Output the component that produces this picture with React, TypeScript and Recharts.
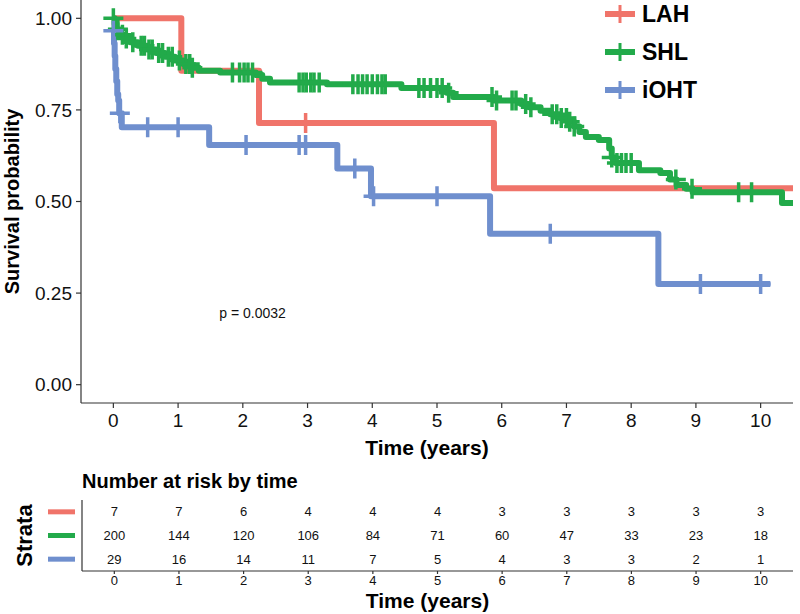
import React from 'react';
import { ComposedChart, Line, Scatter, XAxis, YAxis, Legend, ReferenceDot } from 'recharts';

const FONT = '"Liberation Sans", Arial, Helvetica, sans-serif';

// strata and their colours
const strata = ['LAH', 'SHL', 'iOHT'];
const colors = ['#F0746A', '#22AA4A', '#6F8FCE'];

// Kaplan-Meier steps (time in years, survival)
const lahTimes = [0, 1.05, 2.25, 5.88, 10.5];
const lahSurv = [1, 0.857, 0.714, 0.536, 0.536];
const lahCensor = [2.97];

const shlTimes = [0, 0.02, 0.05, 0.09, 0.16, 0.26, 0.38, 0.52, 0.66, 0.8, 0.95, 1.08, 1.2, 1.32, 1.65, 2.2, 2.3, 2.42, 3.3, 4.45, 5.15, 5.25, 5.88, 6.3, 6.42, 6.6, 6.75, 6.9, 7.02, 7.12, 7.2, 7.3, 7.5, 7.66, 7.7, 7.76, 8.12, 8.45, 8.6, 8.7, 8.85, 8.95, 10.33, 10.5];
const shlSurv = [1, 0.985, 0.97, 0.955, 0.945, 0.935, 0.925, 0.915, 0.905, 0.895, 0.885, 0.875, 0.865, 0.857, 0.852, 0.845, 0.835, 0.825, 0.82, 0.81, 0.797, 0.785, 0.776, 0.766, 0.757, 0.748, 0.738, 0.728, 0.718, 0.705, 0.69, 0.676, 0.668, 0.645, 0.62, 0.605, 0.585, 0.578, 0.56, 0.545, 0.535, 0.525, 0.496, 0.496];
const shlCensor = [0, 0.07, 0.14, 0.2, 0.3, 0.43, 0.48, 0.55, 0.6, 0.7, 0.76, 0.85, 0.91, 1.02, 1.12, 1.18, 1.22, 1.84, 1.95, 2.02, 2.08, 2.15, 2.87, 2.93, 2.98, 3.05, 3.1, 3.18, 3.7, 3.78, 3.85, 3.92, 4.0, 4.08, 4.15, 4.2, 4.72, 4.8, 4.9, 5.0, 5.08, 5.18, 5.85, 5.92, 6.16, 6.22, 6.37, 6.45, 6.78, 6.85, 6.92, 7.0, 7.05, 7.12, 7.7, 7.78, 7.85, 7.92, 8.0, 8.69, 8.94, 9.66, 9.86];

const iohtTimes = [0, 0.01, 0.02, 0.03, 0.045, 0.06, 0.075, 0.09, 0.13, 1.48, 3.46, 3.98, 5.82, 8.42, 10.15];
const iohtSurv = [0.966, 0.931, 0.897, 0.862, 0.828, 0.793, 0.776, 0.741, 0.703, 0.654, 0.59, 0.514, 0.412, 0.275, 0.275];
const iohtCensor = [0, 0.1, 0.53, 1.0, 2.05, 2.87, 2.97, 3.73, 4.02, 5.0, 6.75, 9.07, 10.0];

// number at risk table
const riskTimes = [0, 1, 2, 3, 4, 5, 6, 7, 8, 9, 10];
const lahRisk = [7, 7, 6, 4, 4, 4, 3, 3, 3, 3, 3];
const shlRisk = [200, 144, 120, 106, 84, 71, 60, 47, 33, 23, 18];
const iohtRisk = [29, 16, 14, 11, 7, 5, 4, 3, 3, 2, 1];

const yTicks = [0, 0.25, 0.5, 0.75, 1];
const pValue = 'p = 0.0032';

// value of the step curve at time t
const stepValue = (times: number[], surv: number[], t: number) => {
  let v = surv[0];
  for (let i = 0; i < times.length; i++) if (times[i] <= t) v = surv[i];
  return v;
};

const curves = [
  { times: lahTimes, surv: lahSurv, censor: lahCensor },
  { times: shlTimes, surv: shlSurv, censor: shlCensor },
  { times: iohtTimes, surv: iohtSurv, censor: iohtCensor },
].map(c => ({
  line: c.times.map((t, i) => ({ t, s: c.surv[i] })),
  marks: c.censor.map(t => ({ t, s: stepValue(c.times, c.surv, t) })),
}));

const riskRows = [lahRisk, shlRisk, iohtRisk].map((row, r) =>
  row.map((n, i) => ({ t: riskTimes[i], row: r, n }))
);

const censorShape = (color: string) => (props: any) => {
  const { cx, cy } = props;
  if (cx == null || cy == null) return <g />;
  return (
    <path d={`M${cx - 10},${cy}H${cx + 10}M${cx},${cy - 10}V${cy + 10}`} stroke={color} strokeWidth={3.5} fill="none" />
  );
};

const riskText = (props: any) => {
  const { cx, cy, payload } = props;
  if (cx == null || cy == null) return <g />;
  return (
    <text x={cx} y={cy} dy="0.35em" textAnchor="middle" fontSize={13} fill="#111" fontFamily={FONT}>
      {payload.n}
    </text>
  );
};

const StrataTick = (props: any) => {
  const { y, payload } = props;
  return <line x1={48} x2={75} y1={y} y2={y} stroke={colors[payload.value]} strokeWidth={5} />;
};

const renderLegend = () => (
  <div style={{ fontFamily: FONT }}>
    {strata.map((name, i) => (
      <div key={name} style={{ display: 'flex', alignItems: 'center', height: 38 }}>
        <svg width={34} height={20}>
          <line x1={2} y1={10} x2={32} y2={10} stroke={colors[i]} strokeWidth={6} />
          <line x1={17} y1={1} x2={17} y2={19} stroke={colors[i]} strokeWidth={3} />
        </svg>
        <span style={{ marginLeft: 5, fontWeight: 'bold', fontSize: 23, color: '#000' }}>{name}</span>
      </div>
    ))}
  </div>
);

const xTitle = (base: number) => (props: any) => {
  const vb = props.viewBox;
  return (
    <text x={vb.x + vb.width / 2 - 10} y={vb.y + base} textAnchor="middle" fontSize={21} fontWeight="bold" fill="#000" fontFamily={FONT}>
      Time (years)
    </text>
  );
};

const yTitle = (text: string, x: number, size: number) => (props: any) => {
  const vb = props.viewBox;
  const cy = vb.y + vb.height / 2;
  return (
    <text x={x} y={cy} transform={`rotate(-90, ${x}, ${cy})`} textAnchor="middle" fontSize={size} fontWeight="bold" fill="#000" fontFamily={FONT}>
      {text}
    </text>
  );
};

const axisStyle = { stroke: '#333', strokeWidth: 1.2 };

export default function App() {
  return (
    <div style={{ position: 'absolute', left: 0, top: 0, width: 800, height: 614, background: '#fff', fontFamily: FONT }}>
      <ComposedChart width={800} height={460} margin={{ top: 0, right: 7, bottom: 0, left: 0 }}>
        <XAxis
          type="number"
          dataKey="t"
          domain={[-0.5, 10.5]}
          ticks={riskTimes}
          allowDataOverflow
          height={57}
          tickSize={5}
          tickMargin={6}
          axisLine={axisStyle}
          tickLine={axisStyle}
          tick={{ fontSize: 19, fill: '#111', fontFamily: FONT }}
          label={xTitle(52)}
        />
        <YAxis
          type="number"
          domain={[-0.05, 1.05]}
          ticks={yTicks}
          allowDataOverflow
          width={81}
          tickSize={5}
          tickMargin={4}
          tickFormatter={(v: number) => v.toFixed(2)}
          axisLine={axisStyle}
          tickLine={axisStyle}
          tick={{ fontSize: 19, fill: '#111', fontFamily: FONT }}
          label={yTitle('Survival probability', 19, 20)}
        />
        {curves.map((c, i) => (
          <Line
            key={'l' + i}
            data={c.line}
            dataKey="s"
            type="stepAfter"
            stroke={colors[i]}
            strokeWidth={6}
            strokeLinejoin="round"
            dot={false}
            activeDot={false}
            isAnimationActive={false}
            name={strata[i]}
          />
        ))}
        {curves.map((c, i) => (
          <Scatter
            key={'c' + i}
            data={c.marks}
            dataKey="s"
            shape={censorShape(colors[i])}
            isAnimationActive={false}
            legendType="none"
          />
        ))}
        <ReferenceDot x={2.15} y={0.196} r={0} stroke="none" label={{ value: pValue, position: 'center', fontSize: 14, fill: '#111' }} />
        <Legend
          layout="horizontal"
          verticalAlign="middle"
          align="center"
          content={renderLegend}
          wrapperStyle={{ position: 'absolute', left: 603, top: -5, width: 140 }}
        />
      </ComposedChart>

      <div style={{ position: 'absolute', left: 82, top: 471, fontSize: 20, lineHeight: 1, fontWeight: 'bold', color: '#000' }}>
        Number at risk by time
      </div>

      <div style={{ position: 'absolute', left: 0, top: 460 }}>
        <ComposedChart width={800} height={154} margin={{ top: 40, right: 7, bottom: 0, left: 0 }}>
          <XAxis
            type="number"
            dataKey="t"
            domain={[-0.5, 10.5]}
            ticks={riskTimes}
            allowDataOverflow
            height={43}
            tickSize={3}
            tickMargin={2}
            axisLine={axisStyle}
            tickLine={axisStyle}
            tick={{ fontSize: 13, fill: '#111', fontFamily: FONT }}
            label={xTitle(37)}
          />
          <YAxis
            type="number"
            domain={[-0.5, 2.5]}
            reversed
            ticks={[0, 1, 2]}
            width={82}
            tickLine={false}
            axisLine={axisStyle}
            tick={<StrataTick />}
            label={yTitle('Strata', 32, 22)}
          />
          {riskRows.map((row, i) => (
            <Scatter key={'r' + i} data={row} dataKey="row" shape={riskText} isAnimationActive={false} legendType="none" />
          ))}
        </ComposedChart>
      </div>
    </div>
  );
}
